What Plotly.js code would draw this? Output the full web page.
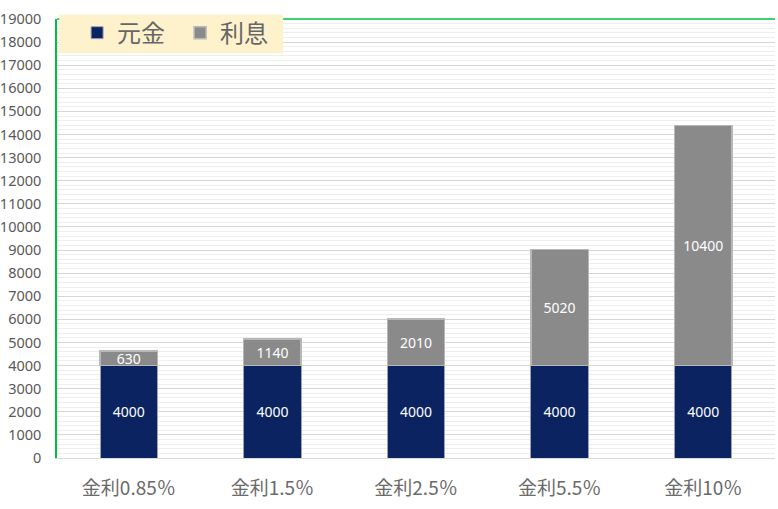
<!DOCTYPE html>
<html>
<head>
<meta charset="utf-8">
<script src="https://cdn.plot.ly/plotly-3.0.1.min.js"></script>
<style>
  html, body { margin: 0; padding: 0; background: #fff; }
  #chart { width: 778px; height: 509px; }
</style>
</head>
<body>
<div id="chart"></div>
<script>
// categories and values
let categories = ["金利0.85％", "金利1.5％", "金利2.5％", "金利5.5％", "金利10％"];
let principal = [4000, 4000, 4000, 4000, 4000];
let interest = [630, 1140, 2010, 5020, 10400];

let tickVals = [];
for (let v = 0; v <= 19000; v += 1000) {
    tickVals.push(v);
}
let tickText = tickVals.map(String);

let fontFamily = '"Noto Sans CJK JP", "Noto Sans", sans-serif';
let numFont = '"Noto Sans", "Open Sans", sans-serif';

let trace_principal = {
    x: categories,
    y: principal,
    name: "元金",
    type: "bar",
    text: principal.map(String),
    textposition: "inside",
    insidetextanchor: "middle",
    constraintext: "none",
    textangle: 0,
    textfont: { color: "#ffffff", size: 14, family: numFont },
    marker: { color: "#0b2461", line: { color: "#9aa3b8", width: 1 } },
    hoverinfo: "y"
};

let trace_interest = {
    x: categories,
    y: interest,
    name: "利息",
    type: "bar",
    text: interest.map(String),
    textposition: "inside",
    insidetextanchor: "middle",
    constraintext: "none",
    textangle: 0,
    textfont: { color: "#ffffff", size: 14, family: numFont },
    marker: { color: "#8a8a8a", line: { color: "#b8b8b8", width: 1.5 } },
    hoverinfo: "y"
};

let layout = {
    width: 778,
    height: 509,
    margin: { l: 57, r: 3, t: 19, b: 51 },
    barmode: "stack",
    bargap: 0.6,
    paper_bgcolor: "#ffffff",
    plot_bgcolor: "#ffffff",
    font: { family: fontFamily, color: "#595959" },
    showlegend: true,
    legend: {
        orientation: "h",
        x: 0.028,
        y: 0.968,
        xanchor: "left",
        yanchor: "middle",
        bgcolor: "rgba(0,0,0,0)",
        font: { size: 24, color: "#666666", family: fontFamily },
        itemwidth: 30,
        entrywidth: 58,
        entrywidthmode: "pixels",
        traceorder: "normal"
    },
    xaxis: {
        type: "category",
        showgrid: false,
        showline: true,
        linecolor: "#d9d9d9",
        linewidth: 1,
        ticks: "",
        tickfont: { size: 19, color: "#6a6a6a", family: fontFamily },
        ticklabelstandoff: 13
    },
    yaxis: {
        range: [0, 19000],
        tickvals: tickVals,
        ticktext: tickText,
        showgrid: true,
        gridcolor: "#d6d6d6",
        gridwidth: 1,
        minor: { dtick: 200, showgrid: true, gridcolor: "#eeeeee", gridwidth: 1 },
        showline: true,
        linecolor: "#00c040",
        linewidth: 1.5,
        zeroline: false,
        ticks: "",
        tickfont: { size: 14.5, color: "#595959", family: numFont },
        ticklabelstandoff: 11
    },
    shapes: [
        {
            type: "line",
            xref: "paper", yref: "paper",
            x0: 0, x1: 1, y0: 1, y1: 1,
            line: { color: "#00c040", width: 1.5 }
        },
        {
            type: "rect",
            xref: "paper", yref: "paper",
            x0: 0.003, x1: 0.315, y0: 0.922, y1: 1.01,
            fillcolor: "#fdf2cc",
            line: { width: 0 },
            layer: "above"
        }
    ]
};

Plotly.newPlot("chart", [trace_principal, trace_interest], layout, { displayModeBar: false });
</script>
</body>
</html>
